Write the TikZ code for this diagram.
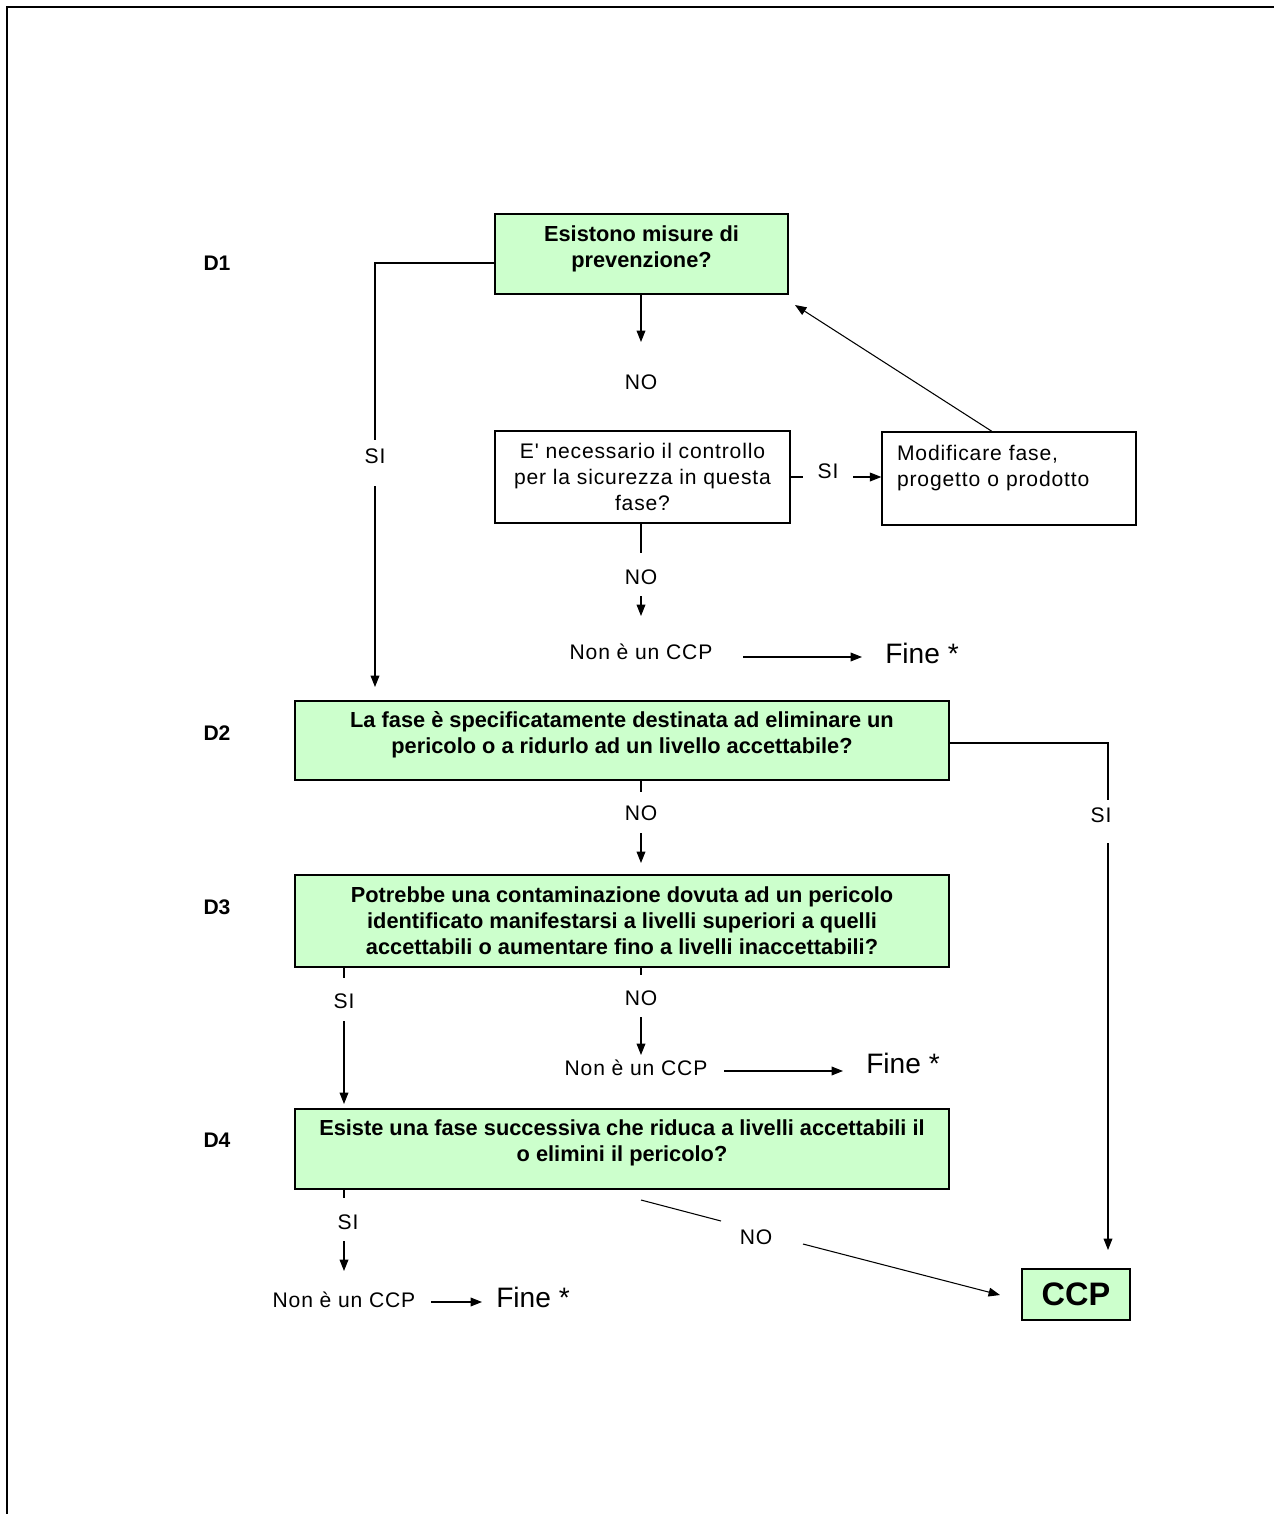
\documentclass[tikz,border=0pt]{standalone}
\usepackage{fontspec}
\setmainfont{Liberation Sans}
\newfontfamily\spacedfont{Liberation Sans}[LetterSpace=4]
\usetikzlibrary{arrows.meta, positioning}
\definecolor{qgreen}{RGB}{204,255,204}

\begin{document}
\begin{tikzpicture}[x=0.02cm, y=-0.02cm,
  qbox/.style={draw, line width=0.8pt, fill=qgreen, align=center, inner sep=2pt, font=\fontsize{12.4}{14.8}\selectfont\bfseries},
  wbox/.style={draw, line width=0.8pt, fill=white, inner sep=2pt, font=\fontsize{12}{14.8}\selectfont\spacedfont},
  lbl/.style={inner sep=0pt, font=\fontsize{12}{14.8}\selectfont\spacedfont},
  dlbl/.style={inner sep=0pt, font=\fontsize{12}{14}\selectfont\bfseries},
  fine/.style={inner sep=0pt, font=\fontsize{16}{18}\selectfont},
  arr/.style={-{Triangle[length=6.5pt,width=5pt]}, line width=0.6pt},
  ln/.style={line width=0.6pt}
]
  \useasboundingbox (0,0) rectangle (1274,1514);
  \draw[line width=1.2pt] (7,1514) -- (7,7) -- (1274,7);

  % domande
  \node[dlbl] (lD1) at (217,263) {D1};
  \node[dlbl] (lD2) at (217,733) {D2};
  \node[dlbl] (lD3) at (217,907) {D3};
  \node[dlbl] (lD4) at (217,1140) {D4};

  \node[qbox, text depth=8.3pt, minimum width=5.86cm, minimum height=1.6cm] (q1) at (641.5,254)
    {Esistono misure di\\prevenzione?};
  \node[wbox, align=center, minimum width=5.9cm, minimum height=1.84cm] (q2) at (642.5,477)
    {E' necessario il controllo\\per la sicurezza in questa\\fase?};
  \node[wbox, align=left, text width=4.48cm, inner xsep=0.3cm, minimum height=1.86cm] (q3) at (1009,478.5)
    {Modificare fase,\\progetto o prodotto\\ \mbox{}};
  \node[qbox, text depth=9.4pt, minimum width=13.08cm, minimum height=1.58cm] (d2) at (622,740.5)
    {La fase è specificatamente destinata ad eliminare un\\pericolo o a ridurlo ad un livello accettabile?};
  \node[qbox, minimum width=13.08cm, minimum height=1.84cm] (d3) at (622,921)
    {Potrebbe una contaminazione dovuta ad un pericolo\\identificato manifestarsi a livelli superiori a quelli\\accettabili o aumentare fino a livelli inaccettabili?};
  \node[qbox, text depth=9.4pt, minimum width=13.08cm, minimum height=1.6cm] (d4) at (622,1149)
    {Esiste una fase successiva che riduca a livelli accettabili il\\o elimini il pericolo?};
  \node[qbox, font=\fontsize{18.5}{20}\selectfont\bfseries, minimum width=2.16cm, minimum height=1.02cm] (ccp) at (1076,1294.5) {CCP};

  % etichette
  \node[lbl] (no1) at (641,382) {NO};
  \node[lbl] (si1) at (375,456) {SI};
  \node[lbl] (si2) at (828,471) {SI};
  \node[lbl] (no2) at (641,577) {NO};
  \node[lbl] (nc1) at (641,652) {Non è un CCP};
  \node[fine] (f1) at (922,653) {Fine *};
  \node[lbl] (no3) at (641,813) {NO};
  \node[lbl] (si3) at (1101,815) {SI};
  \node[lbl] (si4) at (344,1001) {SI};
  \node[lbl] (no4) at (641,998) {NO};
  \node[lbl] (nc2) at (636,1068) {Non è un CCP};
  \node[fine] (f2) at (903,1063) {Fine *};
  \node[lbl] (si5) at (348,1222) {SI};
  \node[lbl] (nc3) at (344,1300) {Non è un CCP};
  \node[fine] (f3) at (533,1297) {Fine *};
  \node[lbl] (no5) at (756,1237) {NO};

  % punti liberi dei collegamenti
  \coordinate (c0) at (375,263);
  \coordinate (c1) at (641,342);
  \coordinate (c2) at (375,440);
  \coordinate (c3) at (375,486);
  \coordinate (c4) at (375,687);
  \coordinate (c5) at (803,477);
  \coordinate (c6) at (853,477);
  \coordinate (c7) at (795,305);
  \coordinate (c8) at (641,553);
  \coordinate (c9) at (641,596);
  \coordinate (c10) at (641,616);
  \coordinate (c11) at (743,657);
  \coordinate (c12) at (862,657);
  \coordinate (c13) at (641,792);
  \coordinate (c14) at (641,833);
  \coordinate (c15) at (641,863);
  \coordinate (c16a) at (1108,743);
  \coordinate (c16) at (1108,800);
  \coordinate (c17) at (1108,843);
  \coordinate (c18) at (1108,1250);
  \coordinate (c19) at (344,978);
  \coordinate (c20) at (344,1021);
  \coordinate (c21) at (344,1104);
  \coordinate (c22) at (641,975);
  \coordinate (c23) at (641,1017);
  \coordinate (c24) at (641,1055);
  \coordinate (c25) at (724,1071);
  \coordinate (c26) at (843,1071);
  \coordinate (c27) at (344,1198);
  \coordinate (c28) at (344,1241);
  \coordinate (c29) at (344,1271);
  \coordinate (c30) at (431,1302);
  \coordinate (c31) at (482,1302);
  \coordinate (c32) at (641,1200);
  \coordinate (c33) at (721,1221);
  \coordinate (c34) at (803,1244);
  \coordinate (c35) at (1000,1295);

  % D1
  \draw[arr] (c1 |- q1.south) -- (c1);
  \draw[ln] (c0 -| q1.west) -- (c0) -- (c2);
  \draw[arr] (c3) -- (c4);
  \draw[ln] (q2.east |- c5) -- (c5);
  \draw[arr] (c6) -- (c6 -| q3.west);
  \draw[arr] (q3.110) -- (c7);
  \draw[ln] (c8 |- q2.south) -- (c8);
  \draw[arr] (c9) -- (c10);
  \draw[arr] (c11) -- (c12);
  % D2
  \draw[ln] (c13 |- d2.south) -- (c13);
  \draw[arr] (c14) -- (c15);
  \draw[ln] (c16a -| d2.east) -- (c16a) -- (c16);
  \draw[arr] (c17) -- (c18);
  % D3
  \draw[ln] (c19 |- d3.south) -- (c19);
  \draw[arr] (c20) -- (c21);
  \draw[ln] (c22 |- d3.south) -- (c22);
  \draw[arr] (c23) -- (c24);
  \draw[arr] (c25) -- (c26);
  % D4
  \draw[ln] (c27 |- d4.south) -- (c27);
  \draw[arr] (c28) -- (c29);
  \draw[arr] (c30) -- (c31);
  \draw[ln] (c32) -- (c33);
  \draw[arr] (c34) -- (c35);
\end{tikzpicture}
\end{document}
